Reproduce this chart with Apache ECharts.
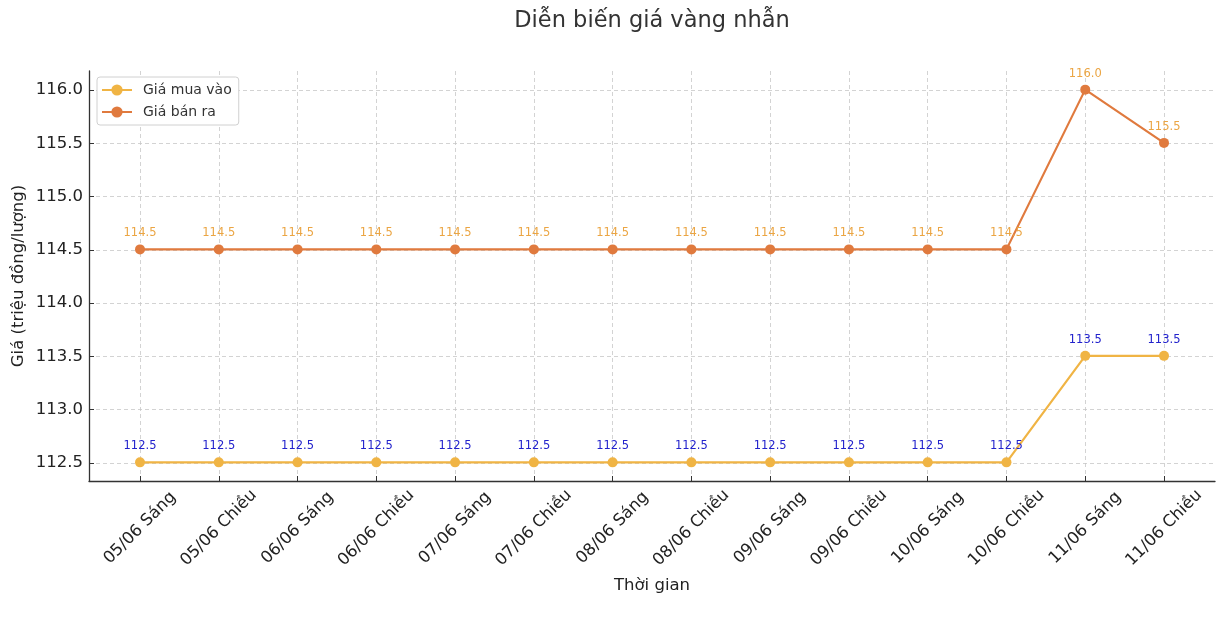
<!DOCTYPE html>
<html>
<head>
<meta charset="utf-8">
<script src="https://cdn.jsdelivr.net/npm/echarts@6/dist/echarts.min.js"></script>
<style>html,body{margin:0;padding:0;background:#fff}#c{width:1218px;height:618px}</style>
</head>
<body>
<div id="c"></div>
<script>
const categories = ["05/06 Sáng","05/06 Chiều","06/06 Sáng","06/06 Chiều","07/06 Sáng","07/06 Chiều","08/06 Sáng","08/06 Chiều","09/06 Sáng","09/06 Chiều","10/06 Sáng","10/06 Chiều","11/06 Sáng","11/06 Chiều"];
const buyPrices = [112.5,112.5,112.5,112.5,112.5,112.5,112.5,112.5,112.5,112.5,112.5,112.5,113.5,113.5];
const sellPrices = [114.5,114.5,114.5,114.5,114.5,114.5,114.5,114.5,114.5,114.5,114.5,114.5,116.0,115.5];
const yTicks = [112.5,113.0,113.5,114.0,114.5,115.0,115.5,116.0];

const FONT = 'DejaVu Sans';
const chart = echarts.init(document.getElementById('c'));
const yMin = yTicks[0], yMax = yTicks[yTicks.length-1];
const pad = (yMax - yMin) * 0.05;

chart.setOption({
  animation: false,
  textStyle: {fontFamily: FONT},
  graphic: [
    {type:'text', x: 652, y: 21, style:{text:'Diễn biến giá vàng nhẫn', font:'22.5px "DejaVu Sans"', fill:'#333', textAlign:'center', textVerticalAlign:'middle'}},
    {type:'text', x: 652, y: 586, style:{text:'Thời gian', font:'16.5px "DejaVu Sans"', fill:'#222', textAlign:'center', textVerticalAlign:'middle'}},
    {type:'text', x: 19, y: 276, rotation: Math.PI/2, style:{text:'Giá (triệu đồng/lượng)', font:'16.5px "DejaVu Sans"', fill:'#222', textAlign:'center', textVerticalAlign:'middle'}}
  ],
  legend: {
    orient: 'vertical', left: 97, top: 77,
    padding: [6,7,6,4], itemGap: 8, itemWidth: 30, itemHeight: 14,
    backgroundColor: '#fff', borderColor: '#d0d0d0', borderWidth: 1, borderRadius: 3,
    textStyle: {fontFamily: FONT, fontSize: 14, color: '#333', padding: [0,0,0,6]},
    data: ['Giá mua vào','Giá bán ra']
  },
  grid: [
    {left: 89, right: 3, top: 71, bottom: 137},
    {left: 89, right: 3, top: 90, bottom: 155},
    {left: 140, right: 54, top: 71, bottom: 137}
  ],
  xAxis: [
    {type:'value', gridIndex:0, min:0, max:1, axisLine:{show:true, lineStyle:{color:'#333', width:1.3}}, axisTick:{show:false}, axisLabel:{show:false}, splitLine:{show:false}},
    {type:'value', gridIndex:1, min:0, max:1, show:false},
    {type:'category', gridIndex:2, data: categories, boundaryGap:false,
      axisLine:{show:false},
      axisTick:{show:true, inside:true, length:5, interval:0, lineStyle:{color:'#333'}},
      axisLabel:{interval:0, rotate:45, align:'center', verticalAlign:'middle', margin:47, fontSize:16.5, color:'#222', fontFamily: FONT},
      splitLine:{show:true, interval:0, lineStyle:{type:[4,3], color:'#c8c8c8', width:0.8}}}
  ],
  yAxis: [
    {type:'value', gridIndex:0, min:0, max:1, axisLine:{show:true, lineStyle:{color:'#333', width:1.3}}, axisTick:{show:false}, axisLabel:{show:false}, splitLine:{show:false}},
    {type:'value', gridIndex:1, min:yMin, max:yMax, interval:0.5,
      axisLine:{show:false},
      axisTick:{show:true, inside:true, length:5, lineStyle:{color:'#333'}},
      axisLabel:{formatter: v => v.toFixed(1), fontSize:16.5, color:'#222', margin:6, fontFamily: FONT},
      splitLine:{show:true, lineStyle:{type:[4,3], color:'#c8c8c8', width:0.8}}},
    {type:'value', gridIndex:2, min: yMin - pad, max: yMax + pad, show:false}
  ],
  series: [
    {name:'Giá mua vào', type:'line', xAxisIndex:2, yAxisIndex:2, data: buyPrices,
      color:'#F0B444', symbol:'circle', symbolSize:10, lineStyle:{width:2.2},
      label:{show:true, position:'top', distance:5, formatter: p => p.value.toFixed(1), color:'#2222cc', fontSize:11.5, fontFamily: FONT}},
    {name:'Giá bán ra', type:'line', xAxisIndex:2, yAxisIndex:2, data: sellPrices,
      color:'#E07A3E', symbol:'circle', symbolSize:10, lineStyle:{width:2.2},
      label:{show:true, position:'top', distance:5, formatter: p => p.value.toFixed(1), color:'#EBA543', fontSize:11.5, fontFamily: FONT}}
  ]
});
</script>
</body>
</html>
